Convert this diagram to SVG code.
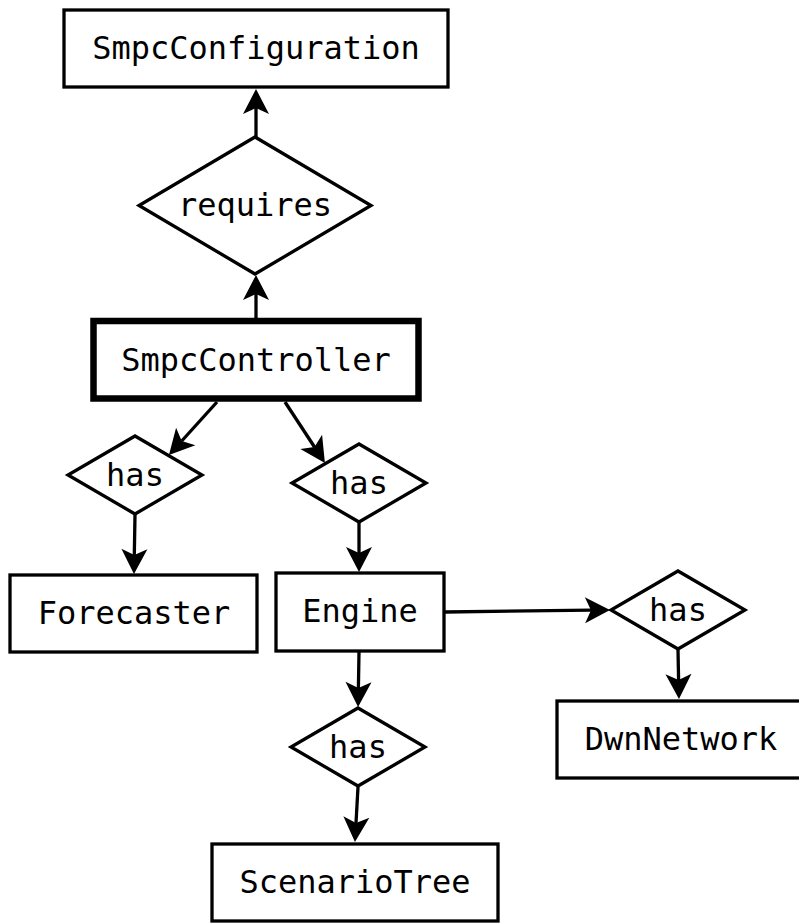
<svg xmlns="http://www.w3.org/2000/svg" width="799" height="923" viewBox="0 0 799 923">
<style>
.box{fill:#fff;stroke:#000;stroke-width:3.3}
.thick{stroke-width:6.5}
.t{font-family:"DejaVu Sans Mono",monospace;font-size:32px;fill:#000;text-anchor:middle}
.c{stroke:#000;stroke-width:3.3;fill:none;marker-end:url(#ah)}
</style>
<defs>
<marker id="ah" markerUnits="userSpaceOnUse" viewBox="-7 -15 28 30" markerWidth="28" markerHeight="30" refX="0" refY="0" orient="auto">
<path d="M19,0 L-6,-13 L0,0 L-6,13 Z" fill="#000"/>
</marker>
</defs>
<rect width="799" height="923" fill="#fff"/>
<g id="connectors">
<line class="c" x1="256" y1="137" x2="256" y2="108"/>
<line class="c" x1="256" y1="318" x2="256" y2="294"/>
<line class="c" x1="217" y1="402" x2="181.7" y2="441"/>
<line class="c" x1="285" y1="402" x2="314.5" y2="447"/>
<line class="c" x1="135" y1="515" x2="134.3" y2="555"/>
<line class="c" x1="359" y1="523" x2="359" y2="553"/>
<line class="c" x1="445" y1="612" x2="591" y2="610.2"/>
<line class="c" x1="678" y1="650" x2="678.6" y2="680"/>
<line class="c" x1="359" y1="652" x2="358.4" y2="688"/>
<line class="c" x1="358" y1="787" x2="356" y2="823"/>
</g>
<g id="SmpcConfiguration">
<rect class="box" x="64" y="10" width="384" height="77"/>
<text class="t" x="256" y="59">SmpcConfiguration</text>
</g>
<g id="requires">
<polygon class="box" points="255,137 371,205.5 255,274 139,205.5"/>
<text class="t" x="255" y="216">requires</text>
</g>
<g id="SmpcController">
<rect class="box thick" x="93.5" y="321" width="325" height="77.5"/>
<text class="t" x="256" y="371">SmpcController</text>
</g>
<g id="has1">
<polygon class="box" points="135,436 202,475 135,514 68,475"/>
<text class="t" x="135" y="486">has</text>
</g>
<g id="has2">
<polygon class="box" points="359,444 426,483 359,522 292,483"/>
<text class="t" x="359" y="494">has</text>
</g>
<g id="Forecaster">
<rect class="box" x="10" y="575" width="247" height="77"/>
<text class="t" x="134" y="624">Forecaster</text>
</g>
<g id="Engine">
<rect class="box" x="276" y="573" width="168" height="78"/>
<text class="t" x="360" y="622">Engine</text>
</g>
<g id="has3">
<polygon class="box" points="678,571 745,610 678,649 611,610"/>
<text class="t" x="678" y="621">has</text>
</g>
<g id="DwnNetwork">
<rect class="box" x="557" y="701" width="248" height="77"/>
<text class="t" x="681" y="750">DwnNetwork</text>
</g>
<g id="has4">
<polygon class="box" points="358,708 425,747 358,786 291,747"/>
<text class="t" x="358" y="758">has</text>
</g>
<g id="ScenarioTree">
<rect class="box" x="212" y="844" width="286" height="77"/>
<text class="t" x="355" y="893">ScenarioTree</text>
</g>
</svg>
